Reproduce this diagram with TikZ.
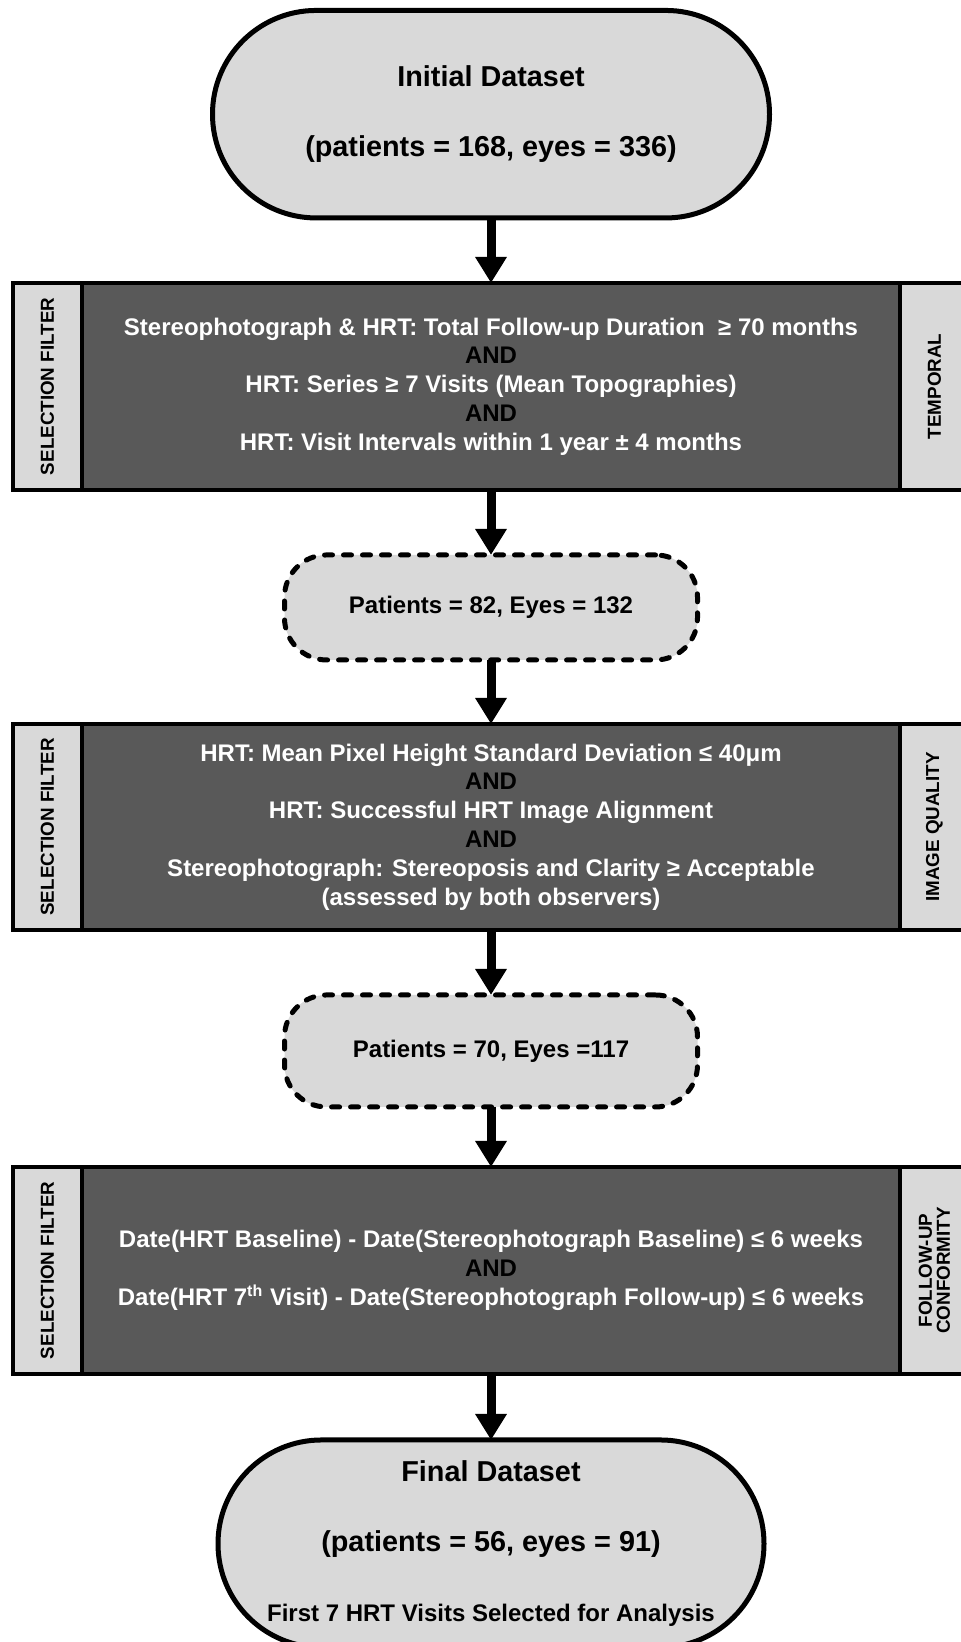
\documentclass[tikz,border=0pt]{standalone}
\usepackage{fontspec}
\setmainfont{Liberation Sans}
\usepackage{xcolor}
\usetikzlibrary{positioning,arrows.meta}
\definecolor{panelgray}{HTML}{D9D9D9}
\definecolor{filtergray}{HTML}{595959}
\newcommand{\androw}{\textcolor{black}{AND}}

\begin{document}
\begin{tikzpicture}[outer sep=0pt,
    terminal/.style={draw, line width=2.5pt, fill=panelgray, rectangle, rounded corners=51.8pt, minimum width=276pt, minimum height=103.75pt, align=center, font=\fontsize{14.4pt}{35pt}\selectfont\bfseries},
    filterbox/.style={draw, line width=2pt, fill=filtergray, rectangle, minimum width=409pt, align=center, text=white, font=\fontsize{12pt}{14.4pt}\selectfont\bfseries},
    sidepanel/.style={draw, line width=2pt, fill=panelgray, rectangle, minimum width=34.5pt},
    sidetext/.style={rotate=90, align=center, font=\fontsize{9.4pt}{9pt}\selectfont\bfseries},
    countbox/.style={draw, line width=2.5pt, dash pattern=on 4pt off 5.5pt, line cap=round, fill=panelgray, rectangle, rounded corners=21pt, minimum width=206.5pt, align=center, font=\fontsize{12pt}{14.4pt}\selectfont\bfseries},
    flowarrow/.style={line width=4.5pt, -{Triangle[width=15pt,length=13pt]}}]
        \useasboundingbox (0,0) rectangle (480pt,-821pt);

        \node [terminal, minimum width=278.5pt] (Initial) at (245.5pt,-57.1pt) {Initial Dataset\\(patients = 168, eyes = 336)};

        \node [filterbox, minimum height=103.5pt, below=32.5pt of Initial] (Temporal) {Stereophotograph \& HRT: Total Follow-up Duration\ \ ≥ 70 months\\ \androw\\ HRT: Series ≥ 7 Visits (Mean Topographies)\\ \androw\\ HRT: Visit Intervals within 1 year ± 4 months};
        \node [sidepanel, minimum height=103.5pt, left=0pt of Temporal] (TempLeft) {};
        \node [sidepanel, minimum height=103.5pt, right=0pt of Temporal] (TempRight) {};
        \node [sidetext] at (TempLeft) {SELECTION FILTER};
        \node [sidetext] at (TempRight) {TEMPORAL};

        \node [countbox, minimum height=52.5pt, below=32.5pt of Temporal] (CountA) {Patients = 82, Eyes = 132};

        \node [filterbox, minimum height=103pt, below=32pt of CountA] (Quality) {HRT: Mean Pixel Height Standard Deviation ≤ 40μm\\ \androw\\ HRT: Successful HRT Image Alignment\\ \androw\\ Stereophotograph: Stereoposis and Clarity ≥ Acceptable\\ (assessed by both observers)};
        \node [sidepanel, minimum height=103pt, left=0pt of Quality] (QualLeft) {};
        \node [sidepanel, minimum height=103pt, right=0pt of Quality] (QualRight) {};
        \node [sidetext] at (QualLeft) {SELECTION FILTER};
        \node [sidetext] at (QualRight) {IMAGE QUALITY};

        \node [countbox, minimum height=56pt, below=32.5pt of Quality] (CountB) {Patients = 70, Eyes =117};

        \node [filterbox, minimum height=103.5pt, below=30pt of CountB] (Conformity) {Date(HRT Baseline) - Date(Stereophotograph Baseline) ≤ 6 weeks\\ \androw\\ Date(HRT 7\textsuperscript{th} Visit) - Date(Stereophotograph Follow-up) ≤ 6 weeks};
        \node [sidepanel, minimum height=103.5pt, left=0pt of Conformity] (ConfLeft) {};
        \node [sidepanel, minimum height=103.5pt, right=0pt of Conformity] (ConfRight) {};
        \node [sidetext] at (ConfLeft) {SELECTION FILTER};
        \node [sidetext] at (ConfRight) {FOLLOW-UP\\CONFORMITY};

        \node [terminal, minimum width=273pt, below=33pt of Conformity] (Final) {Final Dataset\\(patients = 56, eyes = 91)\\{\fontsize{12pt}{35pt}\selectfont First 7 HRT Visits Selected for Analysis}};

        \draw [flowarrow] (Initial.south) -- (Temporal.north);
        \draw [flowarrow] (Temporal.south) -- (CountA.north);
        \draw [flowarrow] (CountA.south) -- (Quality.north);
        \draw [flowarrow] (Quality.south) -- (CountB.north);
        \draw [flowarrow] (CountB.south) -- (Conformity.north);
        \draw [flowarrow] (Conformity.south) -- (Final.north);
    \end{tikzpicture}
\end{document}
